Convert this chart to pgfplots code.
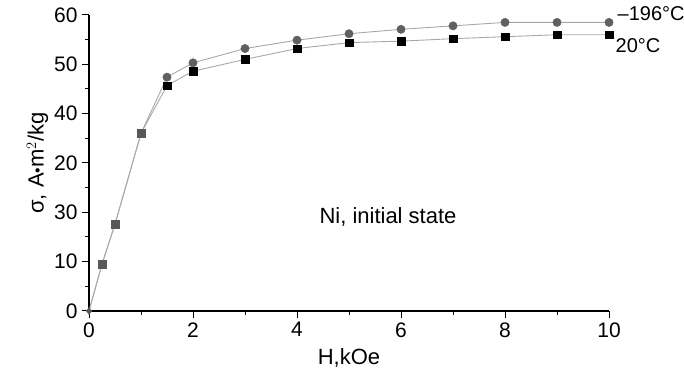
\documentclass[border=0pt]{standalone}
\usepackage{fontspec}
\setmainfont{Liberation Sans}
\usepackage{pgfplots}
\pgfplotsset{compat=1.18}
\definecolor{ln}{HTML}{A8A8A8}
\definecolor{cg}{HTML}{606060}
\definecolor{sg}{HTML}{585858}
\begin{document}
\begin{tikzpicture}[x=1pt,y=1pt]
\begin{axis}[
  at={(0,0)}, anchor=south west,
  scale only axis, width=520pt, height=296pt,
  xmin=0, xmax=10, ymin=0, ymax=60,
  axis lines=left, axis line style={line width=1.2pt, -},
  xtick={0,2,...,10}, minor xtick={1,3,...,9},
  ytick={0,10,...,60}, minor ytick={5,15,...,55},
  yticklabels={0,10,30,20,40,50,60},
  tick align=outside,
  major tick length=7pt, minor tick length=4pt,
  every tick/.style={black, line width=1pt},
  tick label style={font=\fontsize{21}{24}\selectfont},
  /pgf/number format/assume math mode=true,
  xticklabel style={yshift=-1pt},
  yticklabel style={xshift=-1pt},
  xlabel={H,kOe}, ylabel={σ, A\raisebox{0.15em}{$\scriptscriptstyle\bullet$}m$^{2}$/kg},
  label style={font=\fontsize{22}{25}\selectfont},
  xlabel style={yshift=-4pt},
  ylabel style={yshift=-1pt},
  clip=false,
]
\addplot[ln, line width=0.9pt] coordinates {(0,0) (0.25,9.5) (0.5,17.6) (1,36) (1.5,47.4) (2,50.3) (3,53.2) (4,54.9) (5,56.2) (6,57.1) (7,57.8) (8,58.5) (9,58.5) (10,58.5)};
\addplot[ln, line width=0.9pt] coordinates {(0,0) (0.25,9.5) (0.5,17.6) (1,36) (1.5,45.7) (2,48.6) (3,51.0) (4,53.2) (5,54.4) (6,54.7) (7,55.2) (8,55.6) (9,56.0) (10,56.0)};
\addplot[only marks, mark=*, mark size=4.2pt, cg, mark options={draw=cg, fill=cg}] coordinates {(1.5,47.4) (2,50.3) (3,53.2) (4,54.9) (5,56.2) (6,57.1) (7,57.8) (8,58.5) (9,58.5) (10,58.5)};
\addplot[only marks, mark=square*, mark size=3.8pt, black] coordinates {(1.5,45.7) (2,48.6) (3,51.0) (4,53.2) (5,54.4) (6,54.7) (7,55.2) (8,55.6) (9,56.0) (10,56.0)};
\addplot[only marks, mark=square*, mark size=4.2pt, sg] coordinates {(0.25,9.5) (0.5,17.6) (1,36)};
\addplot[only marks, mark=diamond*, mark size=3.5pt, sg] coordinates {(0,0)};
\node[anchor=west, font=\fontsize{20}{23}\selectfont] at (axis cs:10.1,60.3) {–196°C};
\node[anchor=west, font=\fontsize{20}{23}\selectfont] at (axis cs:10.06,53.8) {20°C};
\node[font=\fontsize{22}{25}\selectfont] at (axis cs:5.75,19.1) {Ni, initial state};
\end{axis}
\pgfresetboundingbox
\path[use as bounding box] (-89pt,-63pt) rectangle (595pt,311pt);
\end{tikzpicture}
\end{document}
